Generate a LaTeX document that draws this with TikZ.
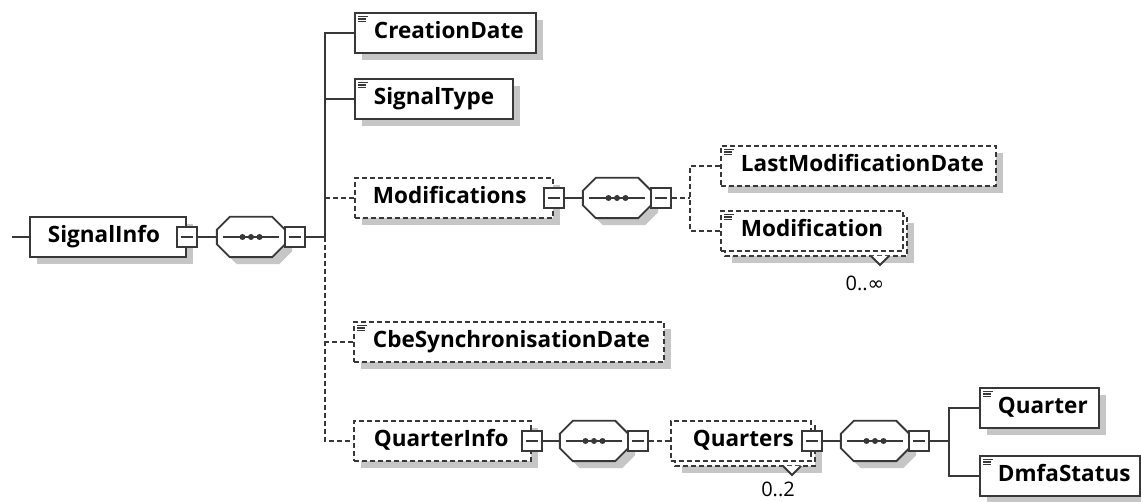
\documentclass[tikz,border=0pt]{standalone}
\usepackage{fontspec}
\setmainfont{Open Sans}
\newfontfamily\symf{DejaVu Sans}
\usetikzlibrary{shadows,calc}
\definecolor{lc}{HTML}{383838}
\definecolor{shd}{HTML}{C6C6C6}
\newcommand\elt[3]{\makebox[#1pt][l]{\hspace*{#2pt}#3\vphantom{lg}}}
\newcommand\simpleicon[1]{\draw[icn] ([xshift=4pt,yshift=-4.5pt]#1.north west) -- ++(10,0)
  ([xshift=4pt,yshift=-7pt]#1.north west) -- ++(8,0)
  ([xshift=4pt,yshift=-9.5pt]#1.north west) -- ++(8,0);}
\newcommand\octo[1]{%
  \draw[base, fill=white, sh] ([xshift=13pt]#1.north west) -- ([xshift=-13pt]#1.north east)
   -- ([yshift=-13pt]#1.north east) -- ([yshift=13pt]#1.south east)
   -- ([xshift=-13pt]#1.south east) -- ([xshift=13pt]#1.south west)
   -- ([yshift=13pt]#1.south west) -- ([yshift=-13pt]#1.north west) -- cycle;
  \draw[base] ([xshift=6pt]#1.west) -- ([xshift=-6pt]#1.east);
  \fill[lc] (#1.center) circle (3pt) ([xshift=-8.5pt]#1.center) circle (3pt) ([xshift=8.5pt]#1.center) circle (3pt);}
\tikzset{
  base/.style={line width=1.9pt, draw=lc},
  dsh/.style={dash pattern=on 5pt off 3pt},
  sh/.style={general shadow={fill=shd, shadow xshift=7pt, shadow yshift=-7pt}},
  elem/.style={base, fill=white, rectangle, inner sep=0pt, minimum height=40pt, anchor=west,
    font=\bfseries\fontsize{22.5}{22.5}\selectfont, text=black},
  optel/.style={elem, dsh},
  seqnode/.style={rectangle, inner sep=0pt, minimum width=68pt, minimum height=40pt},
  sq/.style={base, fill=white, rectangle, inner sep=0pt, minimum size=20pt,
    path picture={\draw[base] ([xshift=4pt]path picture bounding box.west) -- ([xshift=-4pt]path picture bounding box.east);}},
  conn/.style={base, line width=1.8pt},
  dconn/.style={base, line width=1.8pt, dsh},
  icn/.style={draw=lc, line width=1.3pt},
  mult/.style={font=\fontsize{20}{20}\selectfont, text=black, inner sep=0pt},
}
\begin{document}
\begin{tikzpicture}[x=1pt,y=-1pt]
\fill[white] (0,0) rectangle (1141,502);
\useasboundingbox (0,0) rectangle (1141,502);

% SignalInfo
\node[elem, sh] (si) at (29,237) {\elt{156}{18}{SignalInfo}};
\node[sq] (sisq) at (si.east) {};
\node[seqnode] (o1) at (251,237) {};
\octo{o1}
\node[sq] (o1sq) at ([xshift=10pt]o1.east) {};

% children of SignalInfo
\node[elem, sh] (cd) at (354,33) {\elt{181}{19}{CreationDate}};
\simpleicon{cd}
\node[elem, sh] (st) at (354,99) {\elt{158}{19}{SignalType}};
\simpleicon{st}
\node[optel, sh] (md) at (354,198) {\elt{198}{18}{Modifications}};
\node[sq] (mdsq) at (md.east) {};
\node[optel, sh] (cs) at (353,342) {\elt{310}{19}{CbeSynchronisationDate}};
\simpleicon{cs}
\node[optel, sh] (qi) at (353,441) {\elt{177}{20}{QuarterInfo}};
\node[sq] (qisq) at (qi.east) {};

% Modifications sequence
\node[seqnode] (o2) at (617,198) {};
\octo{o2}
\node[sq] (o2sq) at ([xshift=10pt]o2.east) {};
\node[optel, sh] (lm) at (720,166) {\elt{275}{20}{LastModificationDate}};
\simpleicon{lm}
\draw[base, dsh, fill=white, sh] (725,216) rectangle (907,256);
\node[optel] (mo) at (720,231) {\elt{182}{20}{Modification}};
\simpleicon{mo}
\filldraw[base, fill=white] (871,256) -- (880,265) -- (889,256);
\node[mult] (m1) at (865,283) {0..{\symf ∞}};

% QuarterInfo sequence
\node[seqnode] (o3) at (594,441) {};
\octo{o3}
\node[sq] (o3sq) at ([xshift=10pt]o3.east) {};
\draw[base, dsh, fill=white, sh] (675,426) rectangle (815,466);
\node[optel] (qs) at (670,441) {\elt{140}{22}{Quarters}};
\node[sq] (qssq) at (qs.east) {};
\filldraw[base, fill=white] (783,466) -- (792,475) -- (801,466);
\node[mult] (m2) at (778,489) {0..2};

% Quarters sequence
\node[seqnode] (o4) at (875,441) {};
\octo{o4}
\node[sq] (o4sq) at ([xshift=10pt]o4.east) {};
\node[elem, sh] (qu) at (979,408) {\elt{119}{18}{Quarter}};
\simpleicon{qu}
\node[elem, sh] (dm) at (979,476) {\elt{160}{18}{DmfaStatus}};
\simpleicon{dm}

% connectors
\coordinate (in) at (12,237);
\coordinate (j1) at (325,237);
\coordinate (j2) at (690,198);
\coordinate (j3) at (949,441);
\draw[conn] (in) -- (si.west);
\draw[conn] (sisq.east) -- (o1.west);
\draw[conn] (o1sq.east) -- (j1);
\draw[conn] (cd.west) -| (j1);
\draw[conn] (st.west) -- (st.west -| j1);
\draw[dconn] (md.west) -- (md.west -| j1);
\draw[dconn] (cs.west) -- (cs.west -| j1);
\draw[dconn] (j1) |- (qi.west);
\draw[conn] (mdsq.east) -- (o2.west);
\draw[dconn] (o2sq.east) -- (j2);
\draw[dconn] (lm.west) -| (j2) |- (mo.west);
\draw[conn] (qisq.east) -- (o3.west);
\draw[dconn] (o3sq.east) -- (qs.west);
\draw[conn] (qssq.east) -- (o4.west);
\draw[conn] (o4sq.east) -- (j3);
\draw[conn] (qu.west) -| (j3) |- (dm.west);
\end{tikzpicture}
\end{document}
